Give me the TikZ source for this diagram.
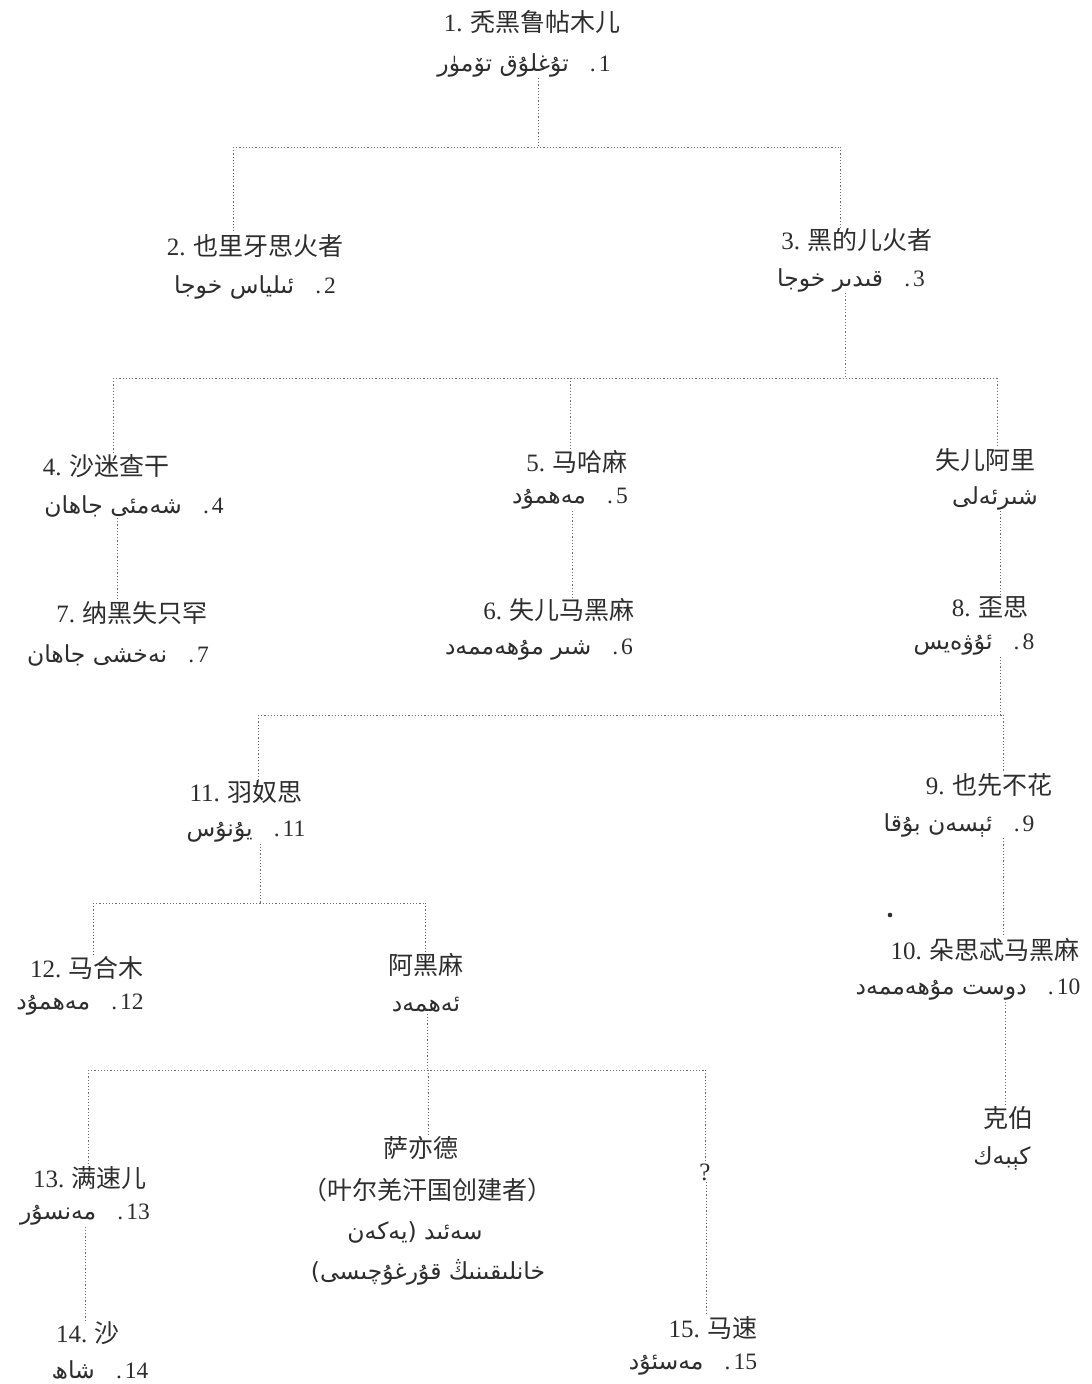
\documentclass[tikz,border=0pt]{standalone}
\usepackage{fontspec}
\setmainfont{Liberation Serif}
\newfontfamily\cjk{Noto Sans CJK SC}
\newfontfamily\ar[Script=Arabic]{DejaVu Sans}
\TeXXeTstate=1
\definecolor{ink}{RGB}{45,45,45}
\definecolor{lnc}{RGB}{110,110,110}
\newcommand\zh[2]{{\rmfamily #1.}\hspace{0.3em}{\cjk #2}}
\newcommand\nm[1]{{\rmfamily #1\kern3pt.}\hspace{0.9em}}
\tikzset{
  tl/.style={draw=lnc, line width=0.8pt, dash pattern=on 1.2pt off 2pt},
  zhn/.style={font=\fontsize{25}{28}\selectfont, text=ink, inner sep=1pt},
  ugn/.style={font=\fontsize{23.5}{26}\selectfont\ar, text=ink, inner sep=1pt},
}
\begin{document}
\begin{tikzpicture}[x=1pt,y=-1pt]
\useasboundingbox (0,0) rectangle (1092,1384);
% ---- persons ----
\node[zhn] (p1c) at (532,22) {\zh{1}{秃黑鲁帖木儿}};
\node[ugn] (p1u) at (524,65) {\beginR\nm{1}تۇغلۇق تۆمۈر\endR};
\node[zhn] (p2c) at (255,246) {\zh{2}{也里牙思火者}};
\node[ugn] (p2u) at (255,287) {\beginR\nm{2}ئىلياس خوجا\endR};
\node[zhn] (p3c) at (857,240) {\zh{3}{黑的儿火者}};
\node[ugn] (p3u) at (851,280) {\beginR\nm{3}قىدىر خوجا\endR};
\node[zhn] (p4c) at (106,466) {\zh{4}{沙迷查干}};
\node[ugn] (p4u) at (134,506) {\beginR\nm{4}شەمئى جاھان\endR};
\node[zhn] (p5c) at (577,462) {\zh{5}{马哈麻}};
\node[ugn] (p5u) at (570,499) {\beginR\nm{5}مەھمۇد\endR};
\node[zhn] (psac) at (985,460) {{\cjk 失儿阿里}};
\node[ugn] (psau) at (995,498) {\beginR شىرئەلى\endR};
\node[zhn] (p7c) at (132,613) {\zh{7}{纳黑失只罕}};
\node[ugn] (p7u) at (118,655) {\beginR\nm{7}نەخشى جاھان\endR};
\node[zhn] (p6c) at (559,610) {\zh{6}{失儿马黑麻}};
\node[ugn] (p6u) at (539,650) {\beginR\nm{6}شىر مۇھەممەد\endR};
\node[zhn] (p8c) at (990,607) {\zh{8}{歪思}};
\node[ugn] (p8u) at (974,645) {\beginR\nm{8}ئۇۋەيس\endR};
\node[zhn] (p11c) at (246,792) {\zh{11}{羽奴思}};
\node[ugn] (p11u) at (246,832) {\beginR\nm{11}يۇنۇس\endR};
\node[zhn] (p9c) at (989,785) {\zh{9}{也先不花}};
\node[ugn] (p9u) at (959,825) {\beginR\nm{9}ئېسەن بۇقا\endR};
\node[zhn] (p10c) at (985,950) {\zh{10}{朵思忒马黑麻}};
\node[ugn] (p10u) at (968,990) {\beginR\nm{10}دوست مۇھەممەد\endR};
\node[zhn] (pkbc) at (1008,1118) {{\cjk 克伯}};
\node[ugn] (pkbu) at (1002,1158) {\beginR كېبەك\endR};
\node[zhn] (p12c) at (87,968) {\zh{12}{马合木}};
\node[ugn] (p12u) at (80,1005) {\beginR\nm{12}مەھمۇد\endR};
\node[zhn] (pahc) at (426,965) {{\cjk 阿黑麻}};
\node[ugn] (pahu) at (426,1005) {\beginR ئەھمەد\endR};
\node[zhn] (p13c) at (90,1178) {\zh{13}{满速儿}};
\node[ugn] (p13u) at (85,1215) {\beginR\nm{13}مەنسۇر\endR};
\node[zhn] (p14c) at (88,1333) {\zh{14}{沙}};
\node[ugn] (p14u) at (100,1370) {\beginR\nm{14}شاھ\endR};
\node[zhn] (psd1) at (421,1148) {{\cjk 萨亦德}};
\node[zhn] (psd2) at (427,1190) {{\cjk （叶尔羌汗国创建者）}};
\node[ugn] (psd3) at (415,1232) {\beginR سەئىد (يەكەن\endR};
\node[ugn] (psd4) at (428,1272) {\beginR خانلىقىنىڭ قۇرغۇچىسى)\endR};
\node[zhn] (pq) at (705,1172) {?};
\node[zhn] (p15c) at (713,1328) {\zh{15}{马速}};
\node[ugn] (p15u) at (693,1365) {\beginR\nm{15}مەسئۇد\endR};
% ---- junctions ----
\coordinate (k1) at (538,147);
\coordinate (k1l) at (233,147);
\coordinate (k1r) at (840,147);
\coordinate (k3) at (845,378);
\coordinate (k3l) at (113,378);
\coordinate (k3m) at (570,378);
\coordinate (k3r) at (997,378);
\coordinate (v4) at (117,0);
\coordinate (v5) at (572,0);
\coordinate (v8) at (1000,0);
\coordinate (k8) at (1000,715);
\coordinate (k8l) at (258,715);
\coordinate (k8r) at (1003,715);
\coordinate (v10) at (1003,0);
\coordinate (v11) at (1005,0);
\coordinate (k11) at (260,903);
\coordinate (k11l) at (93,903);
\coordinate (k11r) at (425,903);
\coordinate (kah) at (427,1070);
\coordinate (kahl) at (88,1070);
\coordinate (kahm) at (428,1070);
\coordinate (kahr) at (705,1070);
\coordinate (v13) at (85,0);
\coordinate (vq) at (706,0);
% ---- connectors ----
\draw[tl] (p1u.south -| k1) -- (k1);
\draw[tl] (k1l) -- (k1r);
\draw[tl] (k1l) -- (k1l |- p2c.north);
\draw[tl] (k1r) -- (k1r |- p3c.north);
\draw[tl] (p3u.south -| k3) -- (k3);
\draw[tl] (k3l) -- (k3r);
\draw[tl] (k3l) -- (k3l |- p4c.north);
\draw[tl] (k3m) -- (k3m |- p5c.north);
\draw[tl] (k3r) -- (k3r |- psac.north);
\draw[tl] (p4u.south -| v4) -- (v4 |- p7c.north);
\draw[tl] (p5u.south -| v5) -- (v5 |- p6c.north);
\draw[tl] (psau.south -| v8) -- (v8 |- p8c.north);
\draw[tl] (p8u.south -| k8) -- (k8);
\draw[tl] (k8l) -- (k8r);
\draw[tl] (k8r) -- (k8r |- p9c.north);
\draw[tl] (k8l) -- (k8l |- p11c.north);
\draw[tl] (p9u.south -| v10) -- (v10 |- p10c.north);
\draw[tl] (p10u.south -| v11) -- (v11 |- pkbc.north);
\draw[tl] (p11u.south -| k11) -- (k11);
\draw[tl] (k11l) -- (k11r);
\draw[tl] (k11l) -- (k11l |- p12c.north);
\draw[tl] (k11r) -- (k11r |- pahc.north);
\draw[tl] (pahu.south -| kah) -- (kah);
\draw[tl] (kahl) -- (kahr);
\draw[tl] (kahl) -- (kahl |- p13c.north);
\draw[tl] (kahm) -- (kahm |- psd1.north);
\draw[tl] (kahr) -- (kahr |- pq.north);
\draw[tl] (p13u.south -| v13) -- (v13 |- p14c.north);
\draw[tl] (pq.south -| vq) -- (vq |- p15c.north);
% stray dot
\fill[ink] (890,915) circle (2.3);
\end{tikzpicture}
\end{document}
